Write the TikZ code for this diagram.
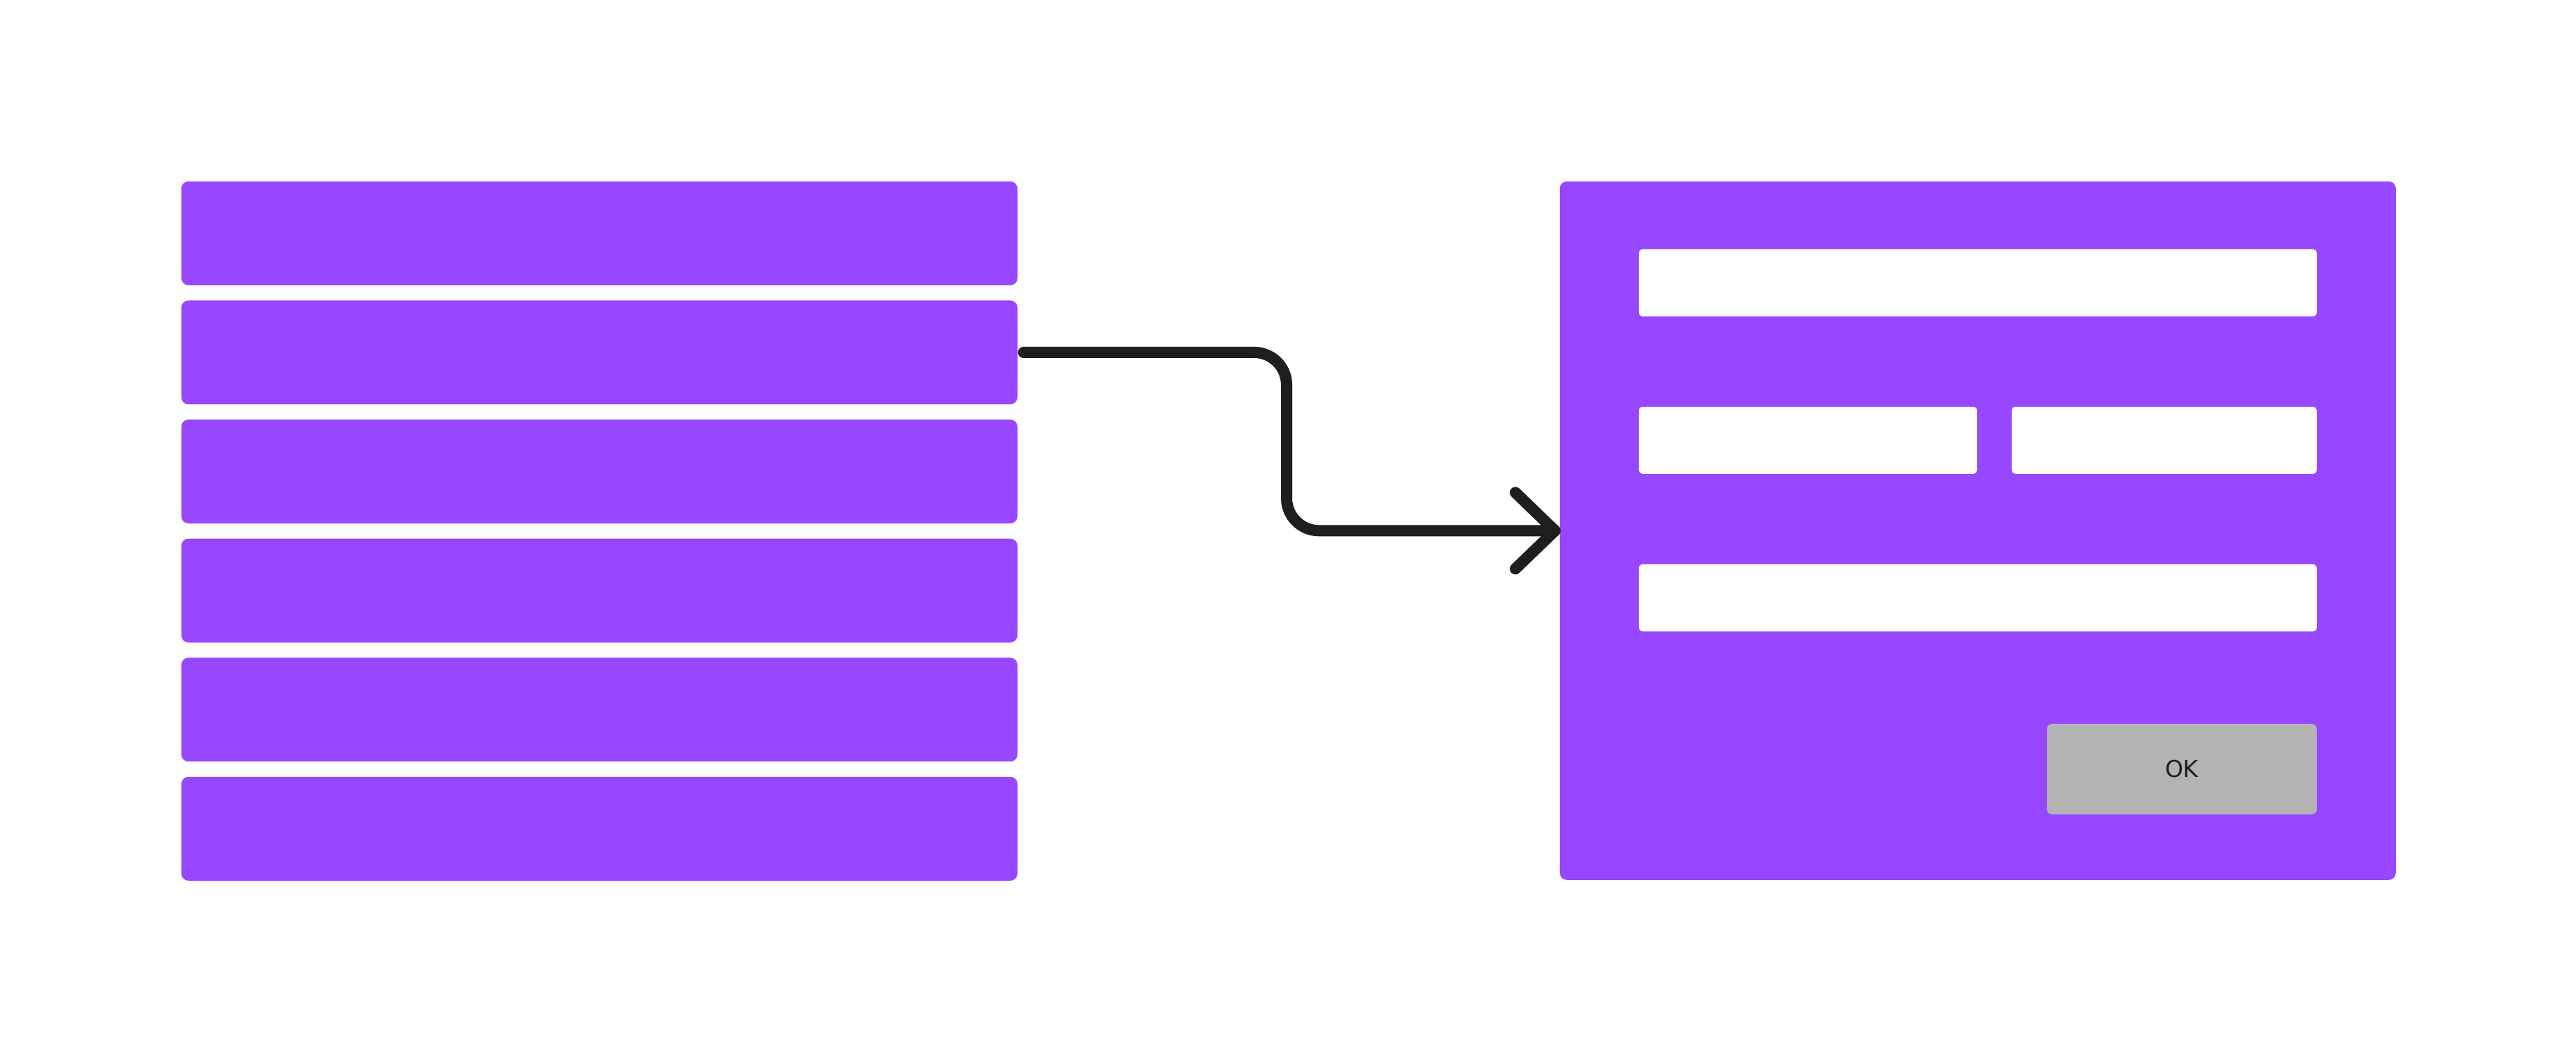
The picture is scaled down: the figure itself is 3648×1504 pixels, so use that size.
\documentclass[tikz,border=0pt]{standalone}
\usepackage{fontspec}
\setmainfont{DejaVu Sans}
\usetikzlibrary{calc}
\definecolor{purp}{HTML}{9747FF}
\definecolor{btn}{HTML}{B3B3B3}
\definecolor{ink}{HTML}{1E1E1E}
\begin{document}
\begin{tikzpicture}[x=0.25pt,y=-0.25pt,
  bar/.style={fill=purp,draw=none,rectangle,rounded corners=2.5pt,anchor=north west,inner sep=0pt,minimum width=296pt,minimum height=36.75pt},
  panel/.style={fill=purp,draw=none,rectangle,rounded corners=2.5pt,anchor=north west,inner sep=0pt,minimum width=296pt,minimum height=247.25pt},
  field/.style={fill=white,draw=none,rectangle,rounded corners=1.25pt,anchor=north west,inner sep=0pt,minimum height=23.75pt},
  okbtn/.style={fill=btn,draw=none,rectangle,rounded corners=1.75pt,anchor=north west,inner sep=0pt,minimum width=95.5pt,minimum height=32pt,text=ink,font=\fontsize{8.2pt}{10pt}\selectfont},
  conn/.style={draw=ink,line width=4pt,line cap=round,line join=round}]
\fill[white] (0,0) rectangle (3648,1504);
\useasboundingbox (0,0) rectangle (3648,1504);
\node[bar] (b1) at (256,256) {};
\node[bar] (b2) at (256,424.6) {};
\node[bar] (b3) at (256,593.2) {};
\node[bar] (b4) at (256,761.8) {};
\node[bar] (b5) at (256,930.4) {};
\node[bar] (b6) at (256,1099) {};
\node[panel] (p) at (2208,256) {};
\node[field,minimum width=240pt] (f1) at (2320,352) {};
\node[field,minimum width=119.75pt] (f2) at (2320,575) {};
\node[field,minimum width=108pt] (f3) at (2848,575) {};
\node[field,minimum width=240pt] (f4) at (2320,798) {};
\node[okbtn] (ok) at (2898,1024) {OK};
\coordinate (mid) at (1822,0);
\coordinate (tip) at ($(p.west)+(-6,0)$);
\draw[conn,rounded corners=11.5pt] ($(b2.east)+(8,0)$) -- (b2.east -| mid) -- (mid |- tip) -- (tip);
\draw[conn] ($(tip)+(-56,-54)$) -- (tip) -- ($(tip)+(-56,54)$);
\end{tikzpicture}
\end{document}
